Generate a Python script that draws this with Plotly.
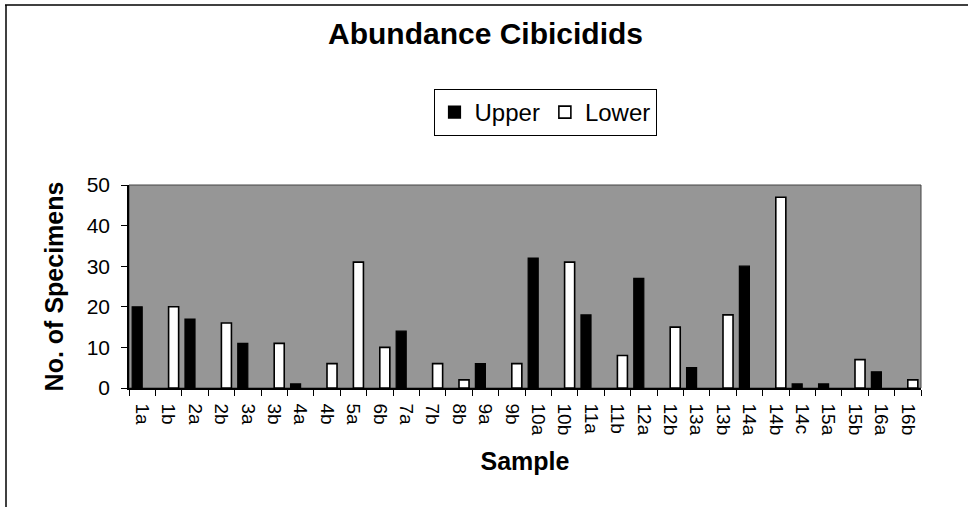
import plotly.graph_objects as go

samples = ["1a", "1b", "2a", "2b", "3a", "3b", "4a", "4b", "5a", "6b",
           "7a", "7b", "8b", "9a", "9b", "10a", "10b", "11a", "11b", "12a",
           "12b", "13a", "13b", "14a", "14b", "14c", "15a", "15b", "16a", "16b"]
upper = [20, None, 17, None, 11, None, 1, None, None, None,
         14, None, None, 6, None, 32, None, 18, None, 27,
         None, 5, None, 30, None, 1, 1, None, 4, None]
lower = [None, 20, None, 16, None, 11, None, 6, 31, 10,
         None, 6, 2, None, 6, None, 31, None, 8, None,
         15, None, 18, None, 47, None, None, 7, None, 2]
y_ticks = [0, 10, 20, 30, 40, 50]

FONT = "Liberation Sans, Arial, sans-serif"

fig = go.Figure()
fig.add_trace(go.Bar(x=samples, y=upper, name="Upper",
                     marker=dict(color="black", line=dict(color="black", width=1.2))))
fig.add_trace(go.Bar(x=samples, y=lower, name="Lower",
                     marker=dict(color="white", line=dict(color="black", width=1.6))))

L, R, T, B = 129, 921, 185, 388
W, H = 971, 507
pw, ph = R - L, B - T

def px(x):
    return (x - L) / pw

def py(y):
    return (B - y) / ph

fig.update_layout(
    width=W, height=H,
    margin=dict(l=L, r=W - R, t=T, b=H - B, autoexpand=False),
    paper_bgcolor="white",
    plot_bgcolor="#969696",
    barmode="group",
    bargap=0.24,
    bargroupgap=0,
    font=dict(family=FONT, color="black", size=19),
    title=dict(text="Abundance Cibicidids", x=0.5, xref="container", xanchor="center",
               y=1 - 33 / H, yref="container", yanchor="middle",
               font=dict(family=FONT, size=30, weight="bold", color="black")),
    legend=dict(orientation="h", x=px(545), xanchor="center", y=py(112.5), yanchor="middle",
                bordercolor="black", borderwidth=1, bgcolor="white",
                font=dict(family=FONT, size=24, color="black"),
                itemwidth=30, traceorder="normal"),
    xaxis=dict(type="category", showline=True, linecolor="black", linewidth=1.5,
               ticks="outside", ticklen=6, tickcolor="black", tickson="boundaries",
               tickangle=90, ticklabelstandoff=10,
               tickfont=dict(family=FONT, size=19, color="black"),
               showgrid=False, zeroline=False,
               title=dict(text="Sample", standoff=18,
                          font=dict(family=FONT, size=25, weight="bold", color="black"))),
    yaxis=dict(range=[0, 50], tickvals=y_ticks, showline=True, linecolor="black", linewidth=1.5,
               ticks="outside", ticklen=6, tickcolor="black", ticklabelstandoff=7,
               tickfont=dict(family=FONT, size=21, color="black"),
               showgrid=False, zeroline=False,
               title=dict(text="No. of Specimens", standoff=16,
                          font=dict(family=FONT, size=25, weight="bold", color="black"))),
    shapes=[
        dict(type="line", xref="paper", yref="paper", x0=px(5), x1=px(968), y0=py(5), y1=py(5),
             line=dict(color="black", width=1.5)),
        dict(type="line", xref="paper", yref="paper", x0=px(6), x1=px(6), y0=py(5), y1=py(507),
             line=dict(color="black", width=1.5)),
        dict(type="rect", xref="paper", yref="paper", x0=0, x1=1, y0=0, y1=1,
             line=dict(color="#444444", width=1), layer="below"),
    ],
)

fig.write_html("out.html", config={"displayModeBar": False},
               post_script="document.body.style.margin='0';")
